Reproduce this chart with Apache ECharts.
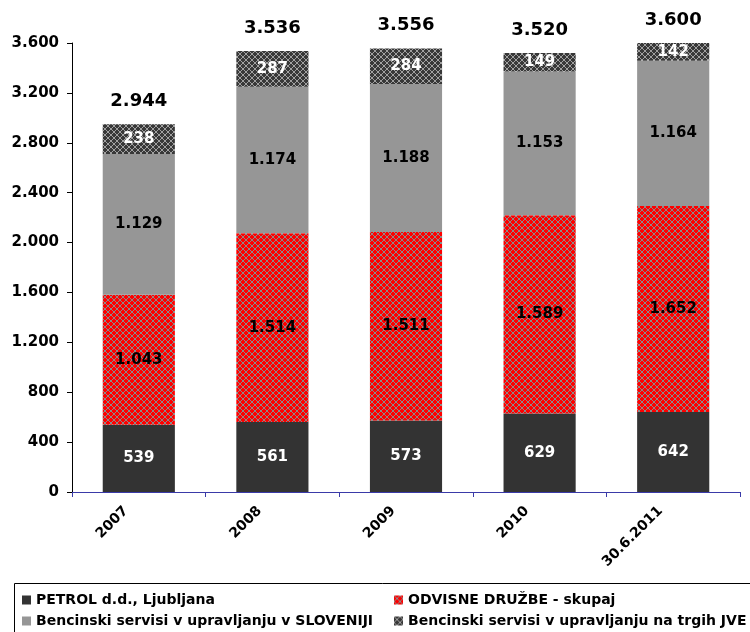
<!DOCTYPE html>
<html>
<head>
<meta charset="utf-8">
<script src="https://cdn.jsdelivr.net/npm/echarts@6/dist/echarts.min.js"></script>
<style>
  html, body { margin: 0; padding: 0; background: #ffffff; }
  #chart { width: 750px; height: 632px; }
</style>
</head>
<body>
<div id="chart"></div>
<script>
// Network of service stations by year (stacked)
const categories = ['2007', '2008', '2009', '2010', '30.6.2011'];
const seriesNames = [
  'PETROL d.d., Ljubljana',
  'ODVISNE DRUŽBE - skupaj',
  'Bencinski servisi v upravljanju v SLOVENIJI',
  'Bencinski servisi v upravljanju na trgih JVE'
];
const petrol     = [539, 561, 573, 629, 642];
const odvisne    = [1043, 1514, 1511, 1589, 1652];
const slovenija  = [1129, 1174, 1188, 1153, 1164];
const jve        = [238, 287, 284, 149, 142];
const totals     = [2944, 3536, 3556, 3520, 3600];
const yTicks     = { min: 0, max: 3600, interval: 400 };

const FONT = 'DejaVu Sans, Verdana, sans-serif';

// Slovenian number format: thousands separated by a dot
function fmt(v) {
  return String(v).replace(/\B(?=(\d{3})+(?!\d))/g, '.');
}

// Small repeating lattice tiles used as hatched fills
function lattice(bg, fg) {
  const c = document.createElement('canvas');
  c.width = 6; c.height = 6;
  const g = c.getContext('2d');
  g.fillStyle = bg;
  g.fillRect(0, 0, 6, 6);
  g.fillStyle = fg;
  for (let x = 0; x < 6; x++) {
    for (let y = 0; y < 6; y++) {
      if (x === y || x + y === 5) g.fillRect(x, y, 1, 1);
    }
  }
  return { image: c, repeat: 'repeat' };
}

const redHatch = lattice('#ff0000', '#8a8a8a');
const darkHatch = lattice('#383838', '#a0a0a0');

const fills = ['#333333', redHatch, '#969696', darkHatch];
const labelColors = ['#ffffff', '#000000', '#000000', '#ffffff'];
const values = [petrol, odvisne, slovenija, jve];

const chart = echarts.init(document.getElementById('chart'), null, { renderer: 'canvas' });

const barSeries = values.map((data, i) => ({
  name: seriesNames[i],
  type: 'bar',
  stack: 'total',
  barWidth: '54%',
  data: data,
  itemStyle: { color: fills[i] },
  label: {
    show: true,
    position: 'inside',
    formatter: p => fmt(p.value),
    color: labelColors[i],
    fontFamily: FONT,
    fontWeight: 'bold',
    fontSize: 15
  },
  emphasis: { disabled: true }
}));

// Totals written above each stacked column
const totalSeries = {
  name: 'total',
  type: 'scatter',
  data: totals,
  symbolSize: 0,
  silent: true,
  itemStyle: { opacity: 1 },
  label: {
    show: true,
    position: 'top',
    distance: 14,
    opacity: 1,
    formatter: p => fmt(p.value),
    color: '#000000',
    fontFamily: FONT,
    fontWeight: 'bold',
    fontSize: 18
  }
};

const legendText = {
  color: '#000000',
  fontFamily: FONT,
  fontWeight: 'bold',
  fontSize: 14
};

// One legend block per entry, laid out in two rows and two columns
const legendSlots = [
  { name: seriesNames[0], left: 22, top: 593 },
  { name: seriesNames[1], left: 394, top: 593 },
  { name: seriesNames[2], left: 22, top: 614 },
  { name: seriesNames[3], left: 394, top: 614 }
];

chart.setOption({
  animation: false,
  backgroundColor: '#ffffff',
  grid: { left: 72, right: 10, top: 43, bottom: 140, containLabel: false },
  xAxis: {
    type: 'category',
    data: categories,
    axisLine: { lineStyle: { color: '#3a3aa8', width: 1 } },
    axisTick: { show: true, length: 5, lineStyle: { color: '#3a3aa8' } },
    axisLabel: {
      rotate: 45,
      margin: 4,
      padding: [0, 18, 0, 0],
      color: '#000000',
      fontFamily: FONT,
      fontWeight: 'bold',
      fontSize: 14
    },
    splitLine: { show: false }
  },
  yAxis: {
    type: 'value',
    min: yTicks.min,
    max: yTicks.max,
    interval: yTicks.interval,
    axisLine: { show: true, lineStyle: { color: '#000000', width: 1 } },
    axisTick: { show: true, length: 5, lineStyle: { color: '#000000' } },
    axisLabel: {
      margin: 13,
      formatter: v => fmt(v),
      color: '#000000',
      fontFamily: FONT,
      fontWeight: 'bold',
      fontSize: 15
    },
    splitLine: { show: false }
  },
  legend: legendSlots.map(s => ({
    left: s.left,
    top: s.top,
    itemWidth: 9,
    itemHeight: 9,
    itemGap: 0,
    icon: 'rect',
    selectedMode: false,
    padding: 0,
    data: [s.name],
    textStyle: legendText
  })),
  graphic: [
    {
      type: 'rect',
      silent: true,
      shape: { x: 14.5, y: 583.5, width: 760, height: 60 },
      style: { fill: 'none', stroke: '#000000', lineWidth: 1 }
    }
  ],
  series: barSeries.concat([totalSeries])
});
</script>
</body>
</html>
